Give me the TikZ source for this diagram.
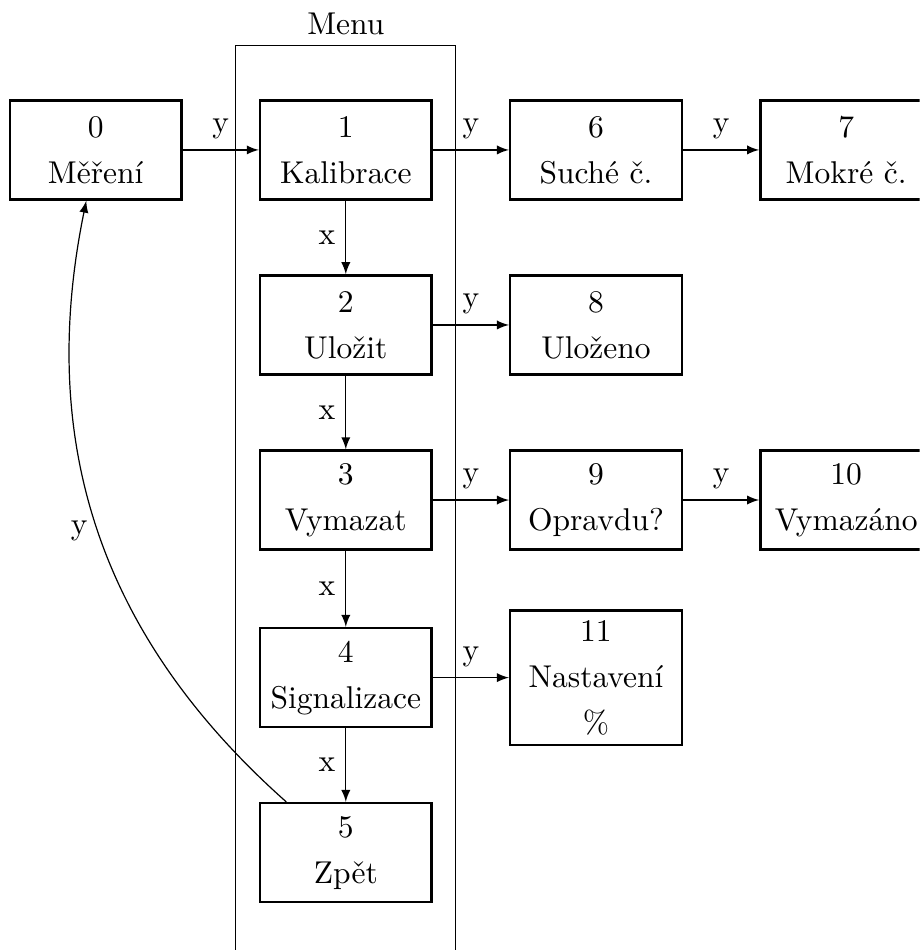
\documentclass[tikz,border=0pt]{standalone}
\usepackage{fontspec}
\usepackage{tikz}
\usetikzlibrary{arrows}
\tikzset{
	state/.style={draw, thick, align=center, minimum width=2.01cm, minimum height=1.16cm},
	go/.style={-latex},
}
\begin{document}
\begin{tikzpicture}[font=\fontsize{10.5pt}{12.6pt}\selectfont]
			%%%%% START %%%%%
			\clip (-4.05, 1.756) rectangle (6.72, -9.37);
			
			\draw (-1.29, 1.22) rectangle (1.28, -9.6);
			\node[above] (menu) at (0, 1.22) {Menu};
			
			\node[state] (n0) at (-2.93, 0) {0\\[2.7pt]Měření};
			\node[state] (n1) at (0, 0) {1\\[2.7pt]Kalibrace};
			\node[state] (n2) at (0, -2.05) {2\\[2.7pt]Uložit};
			\node[state] (n3) at (0, -4.10) {3\\[2.7pt]Vymazat};
			\node[state] (n4) at (0, -6.18) {4\\[2.7pt]Signalizace};
			\node[state] (n5) at (0, -8.23) {5\\[2.7pt]Zpět};
			
			\node[state] (n6) at (2.93, 0) {6\\[2.7pt]Suché č.};
			\node[state] (n7) at (5.86, 0) {7\\[2.7pt]Mokré č.};
			\node[state] (n8) at (2.93, -2.05) {8\\[2.7pt]Uloženo};
			\node[state] (n9) at (2.93, -4.10) {9\\[2.7pt]Opravdu?};
			\node[state] (n10) at (5.86, -4.10) {10\\[2.7pt]Vymazáno};
			\node[state] (n11) at (2.93, -6.18) {11\\[2.7pt]Nastavení\\[2.7pt]\%};
			
			% y
			\draw[go] (n0) -- node[above] {y} (n1);
			\draw[go] (n1) -- node[above] {y} (n6);
			\draw[go] (n6) -- node[above] {y} (n7);
			\draw[go] (n2) -- node[above] {y} (n8);
			\draw[go] (n3) -- node[above] {y} (n9);
			\draw[go] (n9) -- node[above] {y} (n10);
			\draw[go] (n4) -- node[above] {y} (n11);
			
			% x
			\draw[go] (n1) -- node[left] {x} (n2);
			\draw[go] (n2) -- node[left] {x} (n3);
			\draw[go] (n3) -- node[left] {x} (n4);
			\draw[go] (n4) -- node[left] {x} (n5);
			
			\draw[go] (n5) to[bend left] node[left] {y} (n0);
			%%%%% END %%%%%
\end{tikzpicture}
\end{document}
